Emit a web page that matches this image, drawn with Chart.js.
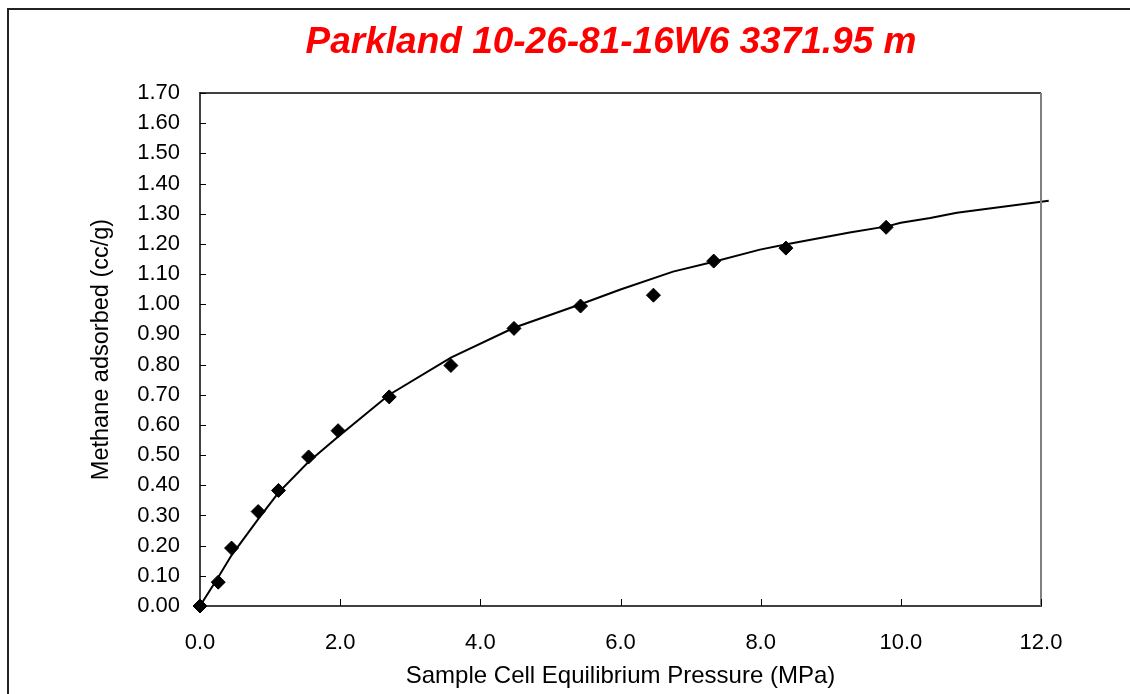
<!DOCTYPE html>
<html>
<head>
<meta charset="utf-8">
<script src="https://cdn.jsdelivr.net/npm/chart.js@4/dist/chart.umd.min.js"></script>
<style>
    html, body { margin: 0; padding: 0; background: #fff; }
    #wrap { width: 1130px; height: 694px; }
</style>
</head>
<body>
<div id="wrap"><canvas id="isotherm" width="1130" height="694"></canvas></div>
<script>
// --- measured points ---
const pressure = [0, 0.26, 0.45, 0.83, 1.12, 1.55, 1.97, 2.70, 3.58, 4.48, 5.43, 6.47, 7.33, 8.36, 9.79];
const adsorbed = [0, 0.079, 0.192, 0.313, 0.383, 0.494, 0.581, 0.693, 0.797, 0.920, 0.994, 1.030, 1.143, 1.186, 1.255];

// --- fitted isotherm line ---
const fitPressure = [0, 0.26, 0.45, 0.83, 1.12, 1.55, 1.97, 2.40, 2.70, 3.58, 4.48, 5.43, 6.00, 6.75, 7.33, 7.99, 8.37, 9.27, 9.80, 10.0, 10.42, 10.80, 12.11];
const fitAdsorbed = [0, 0.095, 0.168, 0.288, 0.376, 0.478, 0.561, 0.643, 0.700, 0.823, 0.922, 1.000, 1.049, 1.108, 1.141, 1.181, 1.199, 1.238, 1.258, 1.270, 1.286, 1.303, 1.343];

const xTicks = { min: 0, max: 12, step: 2 };
const yTicks = { min: 0, max: 1.7, step: 0.1 };

const chartTitle = 'Parkland 10-26-81-16W6 3371.95 m';
const xTitle = 'Sample Cell Equilibrium Pressure (MPa)';
const yTitle = 'Methane adsorbed (cc/g)';

const FONT = '"Liberation Sans", Arial, sans-serif';

// 外框、標題、內向刻度
const framePlugin = {
    id: 'frame',
    beforeDraw(chart) {
        const ctx = chart.ctx;
        ctx.save();
        ctx.fillStyle = '#fff';
        ctx.fillRect(0, 0, chart.width, chart.height);
        ctx.strokeStyle = '#222';
        ctx.lineWidth = 2;
        ctx.beginPath();
        ctx.moveTo(8, chart.height);
        ctx.lineTo(8, 9);
        ctx.lineTo(chart.width, 9);
        ctx.stroke();
        ctx.restore();
    },
    afterDraw(chart) {
        const ctx = chart.ctx;
        const area = chart.chartArea;
        const xs = chart.scales.x;
        const ys = chart.scales.y;
        ctx.save();

        // top + right border of plot area
        ctx.strokeStyle = '#000';
        ctx.lineWidth = 1.5;
        ctx.beginPath();
        ctx.moveTo(area.left, area.top);
        ctx.lineTo(area.right, area.top);
        ctx.stroke();
        ctx.strokeStyle = '#808080';
        ctx.lineWidth = 2;
        ctx.beginPath();
        ctx.moveTo(area.right, area.top);
        ctx.lineTo(area.right, area.bottom);
        ctx.stroke();

        // inward tick marks
        ctx.strokeStyle = '#000';
        ctx.lineWidth = 1;
        ctx.beginPath();
        xs.ticks.forEach(t => {
            const px = Math.round(xs.getPixelForValue(t.value)) + 0.5;
            ctx.moveTo(px, area.bottom);
            ctx.lineTo(px, area.bottom - 7);
        });
        ys.ticks.forEach(t => {
            const py = Math.round(ys.getPixelForValue(t.value)) + 0.5;
            ctx.moveTo(area.left, py);
            ctx.lineTo(area.left + 6, py);
        });
        ctx.stroke();

        // title
        ctx.fillStyle = '#ff0000';
        ctx.font = `italic bold 37px ${FONT}`;
        ctx.textAlign = 'center';
        ctx.textBaseline = 'middle';
        ctx.fillText(chartTitle, 611, 43);
        ctx.restore();
    }
};

const ctx = document.getElementById('isotherm').getContext('2d');
new Chart(ctx, {
    type: 'scatter',
    data: {
        datasets: [
            {
                label: 'fit',
                type: 'line',
                data: fitPressure.map((p, i) => ({ x: p, y: fitAdsorbed[i] })),
                borderColor: '#000',
                borderWidth: 2,
                pointRadius: 0,
                tension: 0,
                fill: false,
                clip: false,
                order: 2
            },
            {
                label: 'measured',
                data: pressure.map((p, i) => ({ x: p, y: adsorbed[i] })),
                pointStyle: 'rectRot',
                pointRadius: 7,
                backgroundColor: '#000',
                borderColor: '#000',
                borderWidth: 1,
                clip: false,
                order: 1
            }
        ]
    },
    options: {
        responsive: false,
        devicePixelRatio: 1,
        animation: false,
        layout: { padding: { top: 93, right: 89, left: 0, bottom: 0 } },
        plugins: {
            legend: { display: false },
            title: { display: false },
            tooltip: { enabled: false }
        },
        scales: {
            x: {
                type: 'linear',
                min: xTicks.min,
                max: xTicks.max,
                afterFit: scale => { scale.height = 88; },
                grid: { display: true, drawOnChartArea: false, drawTicks: false },
                border: { display: true, color: '#404040', width: 2 },
                ticks: {
                    stepSize: xTicks.step,
                    padding: 24,
                    color: '#000',
                    font: { family: FONT, size: 22 },
                    callback: v => Number(v).toFixed(1)
                },
                title: {
                    display: true,
                    text: xTitle,
                    color: '#000',
                    font: { family: FONT, size: 24 },
                    padding: { top: 0, bottom: 3 }
                }
            },
            y: {
                type: 'linear',
                min: yTicks.min,
                max: yTicks.max,
                afterFit: scale => { scale.width = 200; },
                grid: { display: true, drawOnChartArea: false, drawTicks: false },
                border: { display: true, color: '#404040', width: 2 },
                ticks: {
                    stepSize: yTicks.step,
                    padding: 20,
                    color: '#000',
                    font: { family: FONT, size: 22 },
                    callback: v => Number(v).toFixed(2)
                },
                title: {
                    display: true,
                    text: yTitle,
                    color: '#000',
                    font: { family: FONT, size: 23.5 },
                    padding: { top: 87, bottom: 0 }
                }
            }
        }
    },
    plugins: [framePlugin]
});
</script>
</body>
</html>
